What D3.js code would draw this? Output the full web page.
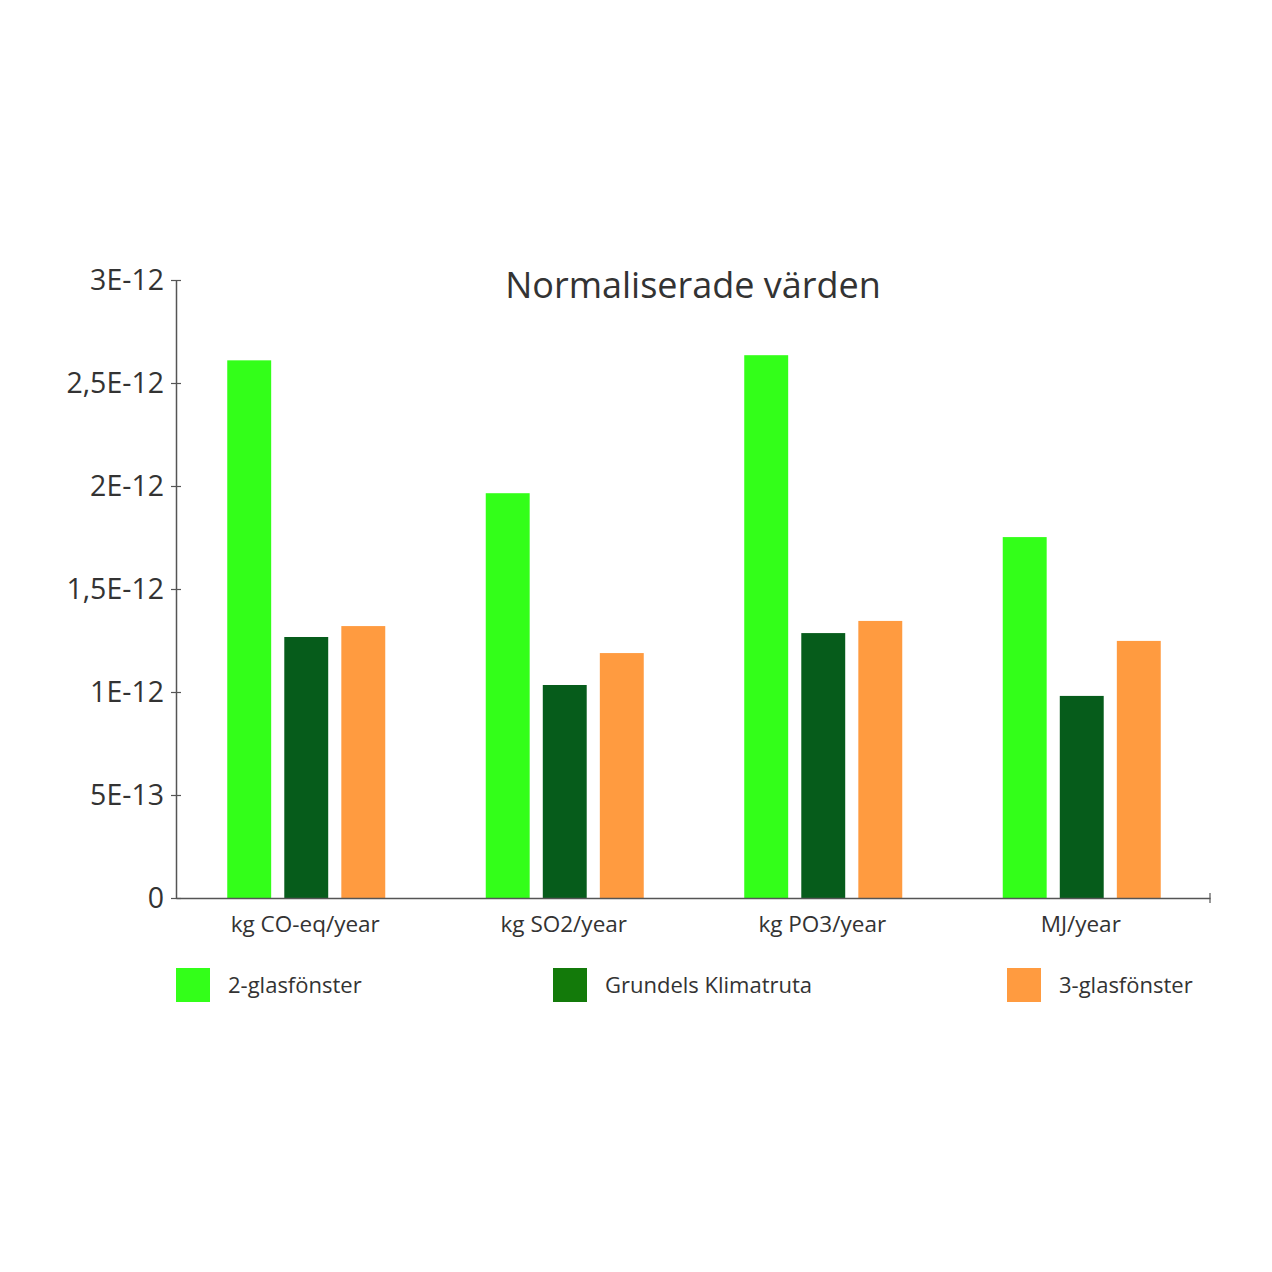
<!DOCTYPE html>
<html>
<head>
<meta charset="utf-8">
<script src="https://cdn.jsdelivr.net/npm/d3@7"></script>
<style>
  body { margin: 0; background: #fff; }
  svg text { font-family: "Open Sans", "Noto Sans", sans-serif; fill: #333; }
</style>
</head>
<body>
<svg id="chart"></svg>
<script>
// DATA
const categories = ["kg CO-eq/year", "kg SO2/year", "kg PO3/year", "MJ/year"];
const seriesNames = ["2-glasfönster", "Grundels Klimatruta", "3-glasfönster"];
const twoGlass = [2.61e-12, 1.965e-12, 2.635e-12, 1.752e-12];
const grundels = [1.267e-12, 1.034e-12, 1.286e-12, 0.981e-12];
const threeGlass = [1.32e-12, 1.189e-12, 1.345e-12, 1.248e-12];
const yTicks = [0, 5e-13, 1e-12, 1.5e-12, 2e-12, 2.5e-12, 3e-12];
const yTickLabels = ["0", "5E-13", "1E-12", "1,5E-12", "2E-12", "2,5E-12", "3E-12"];

const barColors = ["#33ff19", "#065c1b", "#ff9b40"];
const legendColors = ["#33ff19", "#137a0a", "#ff9b40"];

// DIMENSIONS
const dims = { width: 1272, height: 1272 };
const margin = { left: 176, right: 1210, top: 280, bottom: 898 };

const svg = d3.select("#chart")
  .attr("width", dims.width)
  .attr("height", dims.height);

const rows = categories.map((c, i) => ({
  category: c,
  values: [twoGlass[i], grundels[i], threeGlass[i]]
}));

// SCALES
const x = d3.scaleBand()
  .domain(categories)
  .range([margin.left, margin.right])
  .paddingInner(0)
  .paddingOuter(0);

// bars sit a touch right of the band centre
const xInner = d3.scaleBand()
  .domain(d3.range(seriesNames.length))
  .range([x.bandwidth() / 2 - 78, x.bandwidth() / 2 + 80])
  .paddingInner(0.23);

const y = d3.scaleLinear()
  .domain([0, 3e-12])
  .range([margin.bottom, margin.top]);

// TITLE
svg.append("text")
  .attr("x", 693)
  .attr("y", 298)
  .attr("text-anchor", "middle")
  .attr("font-size", 36)
  .text("Normaliserade värden");

// BARS
const groups = svg.append("g")
  .selectAll("g.group")
  .data(rows)
  .join("g")
  .attr("class", "group")
  .attr("transform", d => `translate(${x(d.category)},0)`);

groups.selectAll("rect")
  .data(d => d.values)
  .join("rect")
  .attr("x", (d, i) => xInner(i))
  .attr("width", xInner.bandwidth())
  .attr("y", d => y(d))
  .attr("height", d => y(0) - y(d))
  .attr("fill", (d, i) => barColors[i]);

// Y AXIS
const yAxis = d3.axisLeft(y)
  .tickValues(yTicks)
  .tickFormat((d, i) => yTickLabels[i])
  .tickSizeInner(5)
  .tickSizeOuter(0)
  .tickPadding(7);

const yG = svg.append("g")
  .attr("transform", `translate(${margin.left},0)`)
  .call(yAxis);
yG.select(".domain").attr("stroke", "#555").attr("stroke-width", 1.5);
yG.selectAll(".tick line").attr("stroke", "#555").attr("stroke-width", 1.2).attr("x2", 5).attr("x1", -5);
yG.selectAll(".tick text")
  .attr("font-size", 28.5)
  .attr("fill", "#333")
  .attr("font-family", "'Open Sans', 'Noto Sans', sans-serif");

// X AXIS
const xAxis = d3.axisBottom(x)
  .tickSize(0)
  .tickPadding(18);

const xG = svg.append("g")
  .attr("transform", `translate(0,${margin.bottom})`)
  .call(xAxis);
xG.select(".domain").attr("stroke", "#555").attr("stroke-width", 1.5);
xG.selectAll(".tick text")
  .attr("font-size", 22.5)
  .attr("fill", "#333")
  .attr("font-family", "'Open Sans', 'Noto Sans', sans-serif");
xG.append("line")
  .attr("x1", margin.right).attr("x2", margin.right)
  .attr("y1", -5).attr("y2", 5)
  .attr("stroke", "#555").attr("stroke-width", 1.2);

// LEGEND
const legendX = [176, 553, 1007];
const legend = svg.append("g")
  .selectAll("g.legend")
  .data(seriesNames)
  .join("g")
  .attr("class", "legend")
  .attr("transform", (d, i) => `translate(${legendX[i]},968)`);

legend.append("rect")
  .attr("width", 34)
  .attr("height", 34)
  .attr("fill", (d, i) => legendColors[i]);

legend.append("text")
  .attr("x", 52)
  .attr("y", 25)
  .attr("font-size", 22)
  .text(d => d);
</script>
</body>
</html>
